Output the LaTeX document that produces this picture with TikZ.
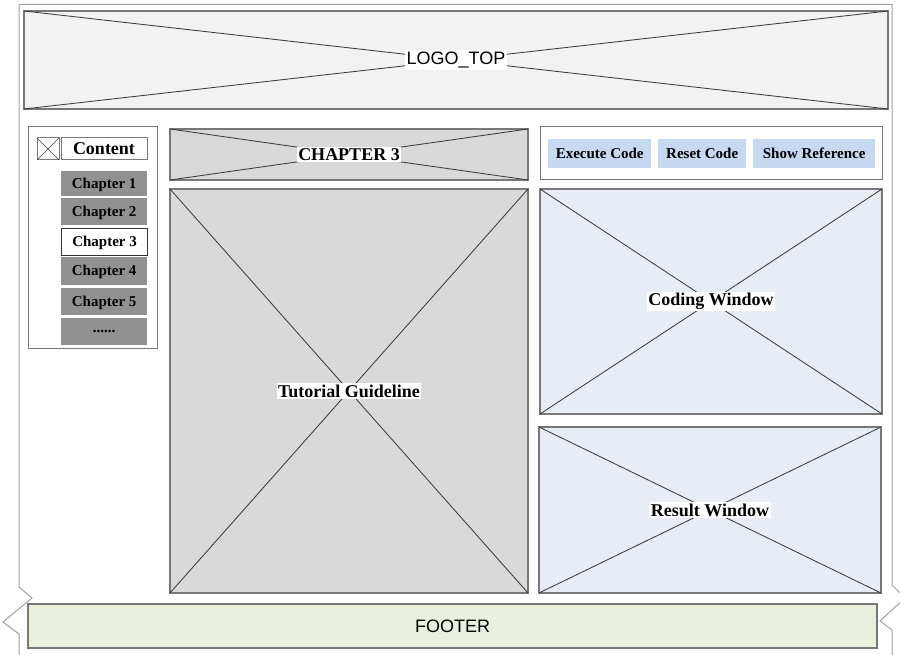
\documentclass[tikz,border=0pt]{standalone}
\usepackage{fontspec}
\setmainfont{Liberation Serif}
\setsansfont{Liberation Sans}
\definecolor{pageline}{RGB}{160,160,160}
\definecolor{boxline}{RGB}{120,120,120}
\definecolor{crossline}{RGB}{60,60,60}
\definecolor{logofill}{RGB}{242,242,242}
\definecolor{headfill}{RGB}{217,217,217}
\definecolor{navfill}{RGB}{145,145,145}
\definecolor{btnfill}{RGB}{198,217,240}
\definecolor{winfill}{RGB}{232,237,245}
\definecolor{footfill}{RGB}{233,240,222}
\tikzset{
  panel/.style={draw=boxline, line width=1.2pt, anchor=north west, inner sep=0pt, outer sep=0pt},
  frame/.style={panel, fill=white},
  cross/.style={draw=crossline, line width=0.85pt},
  bigtitle/.style={fill=white, inner sep=1.5pt, font=\fontsize{18}{20}\selectfont\bfseries},
  sanstitle/.style={fill=white, inner sep=1.5pt, font=\fontsize{18}{20}\selectfont\sffamily},
  navitem/.style={anchor=north west, fill=navfill, inner sep=0pt, minimum width=86pt,
    font=\fontsize{15}{17}\selectfont\bfseries, text depth=1pt},
  btn/.style={anchor=north west, fill=btnfill, inner sep=0pt, minimum height=29pt,
    font=\fontsize{15}{17}\selectfont\bfseries, text depth=1pt},
}
\begin{document}
\begin{tikzpicture}[x=1pt,y=-1pt]
\useasboundingbox (0,0) rectangle (900,655);

% page outline with torn edges at the bottom
\draw[pageline, line width=1pt]
  (19,655) -- (19,634) -- (3,622) -- (32,598) -- (19,587) -- (19,4.5)
  -- (892,4.5) -- (892,585) -- (905,598) -- (880,621) -- (892,630) -- (892,655);

% header logo placeholder
\node[panel, fill=logofill, minimum width=864pt, minimum height=98pt] (logo) at (24,11) {};
\draw[cross] (logo.north west) -- (logo.south east);
\draw[cross] (logo.south west) -- (logo.north east);
\node[sanstitle] (logotext) at (logo.center) {LOGO\_TOP};

% table of contents
\node[frame, line width=1pt, minimum width=129pt, minimum height=221pt] (toc) at (28,127) {};
\node[frame, line width=1pt, minimum width=22pt, minimum height=22pt] (tocicon) at (37,138) {};
\draw[cross, line width=0.5pt] (tocicon.north west) -- (tocicon.south east);
\draw[cross, line width=0.5pt] (tocicon.south west) -- (tocicon.north east);
\node[frame, line width=1pt, minimum width=86pt, minimum height=22pt, text depth=1pt,
  font=\fontsize{18}{20}\selectfont\bfseries] (toctitle) at (61,138) {Content};
\node[navitem, minimum height=25pt] (ch1) at (61,171) {Chapter 1};
\node[navitem, minimum height=27pt] (ch2) at (61,198) {Chapter 2};
\node[navitem, fill=white, draw=black!80, line width=1.2pt, minimum height=27pt] (ch3) at (61,228) {Chapter 3};
\node[navitem, minimum height=28pt] (ch4) at (61,257) {Chapter 4};
\node[navitem, minimum height=27pt] (ch5) at (61,288) {Chapter 5};
\node[navitem, minimum height=27pt] (chmore) at (61,318) {......};

% chapter heading and tutorial area
\node[panel, fill=headfill, minimum width=358pt, minimum height=51pt] (chead) at (170,129) {};
\draw[cross] (chead.north west) -- (chead.south east);
\draw[cross] (chead.south west) -- (chead.north east);
\node[bigtitle] (cheadtext) at (chead.center) {CHAPTER 3};

\node[panel, fill=headfill, minimum width=358pt, minimum height=404pt] (tut) at (170,189) {};
\draw[cross] (tut.north west) -- (tut.south east);
\draw[cross] (tut.south west) -- (tut.north east);
\node[bigtitle] (tuttext) at (tut.center) {Tutorial Guideline};

% toolbar
\node[frame, line width=1pt, minimum width=342pt, minimum height=53pt] (tools) at (540,127) {};
\node[btn, minimum width=103pt] (exec) at (548,139) {Execute Code};
\node[btn, minimum width=88pt] (reset) at (658,139) {Reset Code};
\node[btn, minimum width=122pt] (ref) at (753,139) {Show Reference};

% code editor and output
\node[panel, fill=winfill, minimum width=342pt, minimum height=225pt] (code) at (540,189) {};
\draw[cross] (code.north west) -- (code.south east);
\draw[cross] (code.south west) -- (code.north east);
\node[bigtitle] (codetext) at (code.center) {Coding Window};

\node[panel, fill=winfill, minimum width=342pt, minimum height=166pt] (result) at (539,427) {};
\draw[cross] (result.north west) -- (result.south east);
\draw[cross] (result.south west) -- (result.north east);
\node[bigtitle] (resulttext) at (result.center) {Result Window};

% footer
\node[panel, fill=footfill, minimum width=849pt, minimum height=44pt] (footer) at (28,604) {};
\node[sanstitle, fill=none] (foottext) at (footer.center) {FOOTER};
\end{tikzpicture}
\end{document}
